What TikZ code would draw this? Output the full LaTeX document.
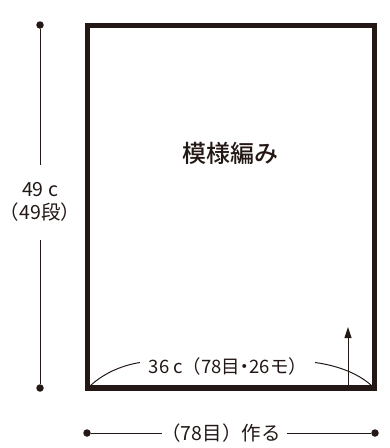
\documentclass[tikz,border=0pt]{standalone}
\usepackage{fontspec}
\setmainfont{Noto Sans CJK JP}
\newfontfamily\paltfont{Noto Sans CJK JP}[RawFeature=+palt]
\newfontfamily\jpbold{Noto Sans CJK JP Medium}[RawFeature=+palt]
\usetikzlibrary{arrows.meta}
\definecolor{ink}{RGB}{35,24,21}
\begin{document}
\begin{tikzpicture}[x=1pt,y=-1pt,
  dimline/.style={line width=1pt,draw=ink},
  dimdot/.style={circle,fill=ink,inner sep=0pt,minimum size=7.5pt},
  lbl/.style={font=\fontsize{19.5}{23}\selectfont,text=ink,inner sep=1pt},
  frame/.style={line width=5.5pt,draw=ink}]
\useasboundingbox (0,0) rectangle (389,448);
% frame
\coordinate (tl) at (87.5,25.5);
\coordinate (tr) at (374.5,25.5);
\coordinate (bl) at (87.5,388);
\coordinate (br) at (374.5,388);
\draw[frame] (tl) -- (tr) -- (br) -- (bl) -- cycle;
\node[font=\fontsize{24}{26}\jpbold,text=ink] (title) at (230,153) {模様編み};
% left dimension
\node[dimdot] (ltop) at (40,25) {};
\node[dimdot] (lbot) at (40,388) {};
\node[lbl,align=center] (lh) at (40,202) {49 c\\（49段）};
\coordinate (lgap1) at (40,165);
\coordinate (lgap2) at (40,240);
\draw[dimline] (ltop) -- (lgap1);
\draw[dimline] (lgap2) -- (lbot);
% bottom dimension
\node[dimdot] (bleft) at (87,433) {};
\node[dimdot] (bright) at (375,433) {};
\node[lbl] (bw) at (221,433) {（78目）作る};
\coordinate (bg1) at (162,433);
\coordinate (bg2) at (287,433);
\draw[dimline] (bleft) -- (bg1);
\draw[dimline] (bg2) -- (bright);
% inner width label with arcs
\node[lbl,font=\fontsize{18.5}{22}\selectfont] (iw) at (228,366) {36 c（78目{\paltfont ・}26モ）};
\coordinate (a1) at (90,386);
\coordinate (a1e) at (140,362.5);
\coordinate (a2) at (372,386);
\coordinate (a2e) at (315,362.5);
\draw[dimline] (a1) .. controls (105,372) and (124,365) .. (a1e);
\draw[dimline] (a2) .. controls (357,372) and (334,365) .. (a2e);
% direction arrow
\coordinate (arb) at (348,386);
\coordinate (art) at (348,327);
\draw[dimline,-{Triangle[length=11pt,width=7pt]}] (arb) -- (art);
\end{tikzpicture}
\end{document}
